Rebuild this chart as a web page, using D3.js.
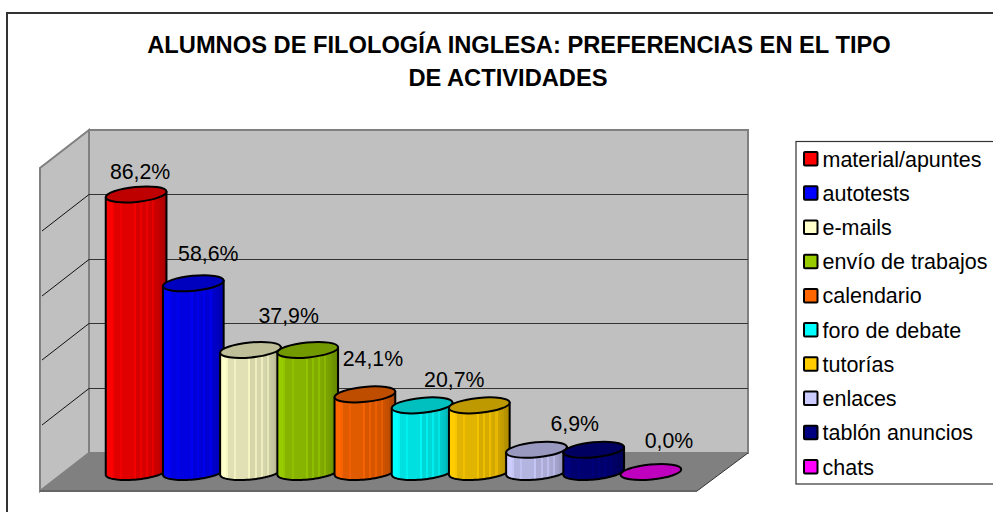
<!DOCTYPE html>
<html><head><meta charset="utf-8">
<script src="https://cdn.jsdelivr.net/npm/d3@7/dist/d3.min.js"></script>
<style>html,body{margin:0;padding:0;background:#fff}svg{display:block}text{font-family:"Liberation Sans",Arial,sans-serif;fill:#000}</style>
</head><body><svg id="c" width="993" height="512"></svg>
<script>
const titleLines = ["ALUMNOS DE FILOLOGÍA INGLESA: PREFERENCIAS EN EL TIPO", "DE ACTIVIDADES"];
const categories = ["material/apuntes","autotests","e-mails","envío de trabajos","calendario","foro de debate","tutorías","enlaces","tablón anuncios","chats"];
const values = [86.2,58.6,37.9,37.9,24.1,20.7,20.7,6.9,6.9,0.0];
const colors = ["#ff0000","#0000ff","#ffffcc","#99cc00","#ff6600","#00ffff","#ffcc00","#ccccff","#000080","#ff00ff"];
const labelledCategories = ["material/apuntes","autotests","envío de trabajos","calendario","tutorías","tablón anuncios","chats"];
const labelDx = {"material/apuntes":4,"autotests":15,"envío de trabajos":-19,"calendario":8,"tutorías":-25,"tablón anuncios":-19,"chats":18};
const labelDy = {"material/apuntes":3,"autotests":-4,"envío de trabajos":-9,"calendario":-10,"tutorías":0,"tablón anuncios":-1,"chats":-6};
const shades = [1,1,1,.97,.88,.88,.88,.94,.88,.88,.88,.88,.88,.88,.96,.84,.84,.93,.84,.84,.93,.84,.82,.9,.8,.78,.76,.72,.7,.66];

const svg = d3.select("#c");
const defs = svg.append("defs");
const W = {x0:89,x1:748,top:130,bottom:453,dx:-49,dy:38};
const y = d3.scaleLinear().domain([0,100]).range([W.bottom-1,W.top]);
const x = d3.scaleBand().domain(categories).range([107.5,679.5]).paddingInner(0).paddingOuter(0);
const rx = 30.5, ry = 7.5, tilt = -5.5*Math.PI/180, baseY = y(0)+20;

// chart frame: only its top and left edges fall inside the picture
svg.append("path").attr("d","M7,514V13H995").attr("fill","none").attr("stroke","#333").attr("stroke-width",2);

svg.selectAll("text.title").data(titleLines).join("text").attr("class","title")
  .attr("x",(d,i)=>i?508:519).attr("y",(d,i)=>53+i*32.5).attr("text-anchor","middle")
  .attr("font-size",23.7).attr("font-weight","bold").text(d=>d);

// walls and floor
const gray="#808080";
svg.append("polygon").attr("points",[[W.x0,W.top],[W.x1,W.top],[W.x1,W.bottom],[W.x0,W.bottom]].join(" "))
  .attr("fill","#c0c0c0").attr("stroke",gray).attr("stroke-width",2);
svg.append("polygon").attr("points",[[W.x0,W.top],[W.x0,W.bottom],[W.x0+W.dx,W.bottom+W.dy],[W.x0+W.dx,W.top+W.dy]].join(" "))
  .attr("fill","#c0c0c0").attr("stroke",gray).attr("stroke-width",2);
svg.append("polygon").attr("points",[[W.x0,W.bottom],[W.x1,W.bottom],[W.x1-51,W.bottom+W.dy],[W.x0+W.dx,W.bottom+W.dy]].join(" "))
  .attr("fill",gray);
svg.append("line").attr("x1",W.x0+W.dx).attr("x2",W.x1-51).attr("y1",W.bottom+W.dy).attr("y2",W.bottom+W.dy).attr("stroke","#666").attr("stroke-width",2);
svg.append("line").attr("x1",W.x1-51).attr("x2",W.x1).attr("y1",W.bottom+W.dy).attr("y2",W.bottom).attr("stroke","#333").attr("stroke-width",1);

const inner = y.ticks(5).filter(t=>t>0&&t<100);
svg.selectAll("line.g").data(inner).join("line").attr("class","g")
  .attr("x1",W.x0).attr("x2",W.x1).attr("y1",d=>Math.round(y(d))+.5).attr("y2",d=>Math.round(y(d))+.5)
  .attr("stroke","#333").attr("stroke-width",1);
svg.selectAll("line.s").data(inner).join("line").attr("class","s")
  .attr("x1",W.x0).attr("x2",W.x0+W.dx+2).attr("y1",d=>Math.round(y(d))+.5).attr("y2",d=>Math.round(y(d))+.5+W.dy-1.5)
  .attr("stroke","#111").attr("stroke-width",1);

// cylinders
const dark = (c,k)=>{const r=d3.rgb(c);return d3.rgb(r.r*k,r.g*k,r.b*k).formatHex();};
categories.forEach((cat,i)=>{
  const g = defs.append("linearGradient").attr("id","g"+i).attr("x1",0).attr("x2",1).attr("y1",0).attr("y2",0);
  shades.forEach((k,j)=>{
    g.append("stop").attr("offset",j/shades.length).attr("stop-color",dark(colors[i],k));
    g.append("stop").attr("offset",(j+1)/shades.length).attr("stop-color",dark(colors[i],k));
  });
});
const ellPt = (cx,cy,t)=>[cx+rx*Math.cos(t)*Math.cos(tilt)-ry*Math.sin(t)*Math.sin(tilt), cy+rx*Math.cos(t)*Math.sin(tilt)+ry*Math.sin(t)*Math.cos(tilt)];
const half = d3.range(0,Math.PI+.01,Math.PI/40);
const lineGen = d3.line();
const cyl = svg.selectAll("g.cyl").data(categories.map((c,i)=>({c,i,v:values[i]}))).join("g").attr("class","cyl");
cyl.each(function(d){
  const s=d3.select(this), cx=x(d.c)+x.bandwidth()/2, topY=y(d.v)+20, botY=baseY;
  if(d.v>0){
    const pts = half.map(t=>ellPt(cx,botY,t));
    pts.push(ellPt(cx,topY,Math.PI), ellPt(cx,topY,0));
    s.append("path").attr("d",lineGen(pts)+"Z")
      .attr("fill",`url(#g${d.i})`).attr("stroke","#000").attr("stroke-width",2).attr("stroke-linejoin","round");
  }
  s.append("ellipse").attr("cx",cx).attr("cy",topY).attr("rx",rx).attr("ry",ry)
    .attr("transform",`rotate(${tilt*180/Math.PI} ${cx} ${topY})`)
    .attr("fill",dark(colors[d.i],.75)).attr("stroke","#000").attr("stroke-width",2);
});

// data labels
svg.selectAll("text.lab").data(labelledCategories).join("text").attr("class","lab")
  .attr("x",d=>x(d)+x.bandwidth()/2+labelDx[d])
  .attr("y",d=>y(values[categories.indexOf(d)])+2+labelDy[d])
  .attr("text-anchor","middle").attr("font-size",21.3)
  .text(d=>values[categories.indexOf(d)].toFixed(1).replace(".",",")+"%");

// legend: the right edge lies outside the picture
svg.append("rect").attr("x",796).attr("y",141.5).attr("width",210).attr("height",342.5).attr("fill","#fff").attr("stroke","#333").attr("stroke-width",1.2);
const ly = d3.scalePoint().domain(categories).range([159,467]);
svg.selectAll("rect.sw").data(categories).join("rect").attr("class","sw")
  .attr("x",804).attr("y",d=>ly(d)-7).attr("width",13.5).attr("height",13.5).attr("rx",1)
  .attr("fill",(d,i)=>colors[i]).attr("stroke","#000").attr("stroke-width",2);
svg.selectAll("text.leg").data(categories).join("text").attr("class","leg")
  .attr("x",822.5).attr("y",d=>ly(d)+7.5).attr("font-size",21.5).text(d=>d);
</script></body></html>
